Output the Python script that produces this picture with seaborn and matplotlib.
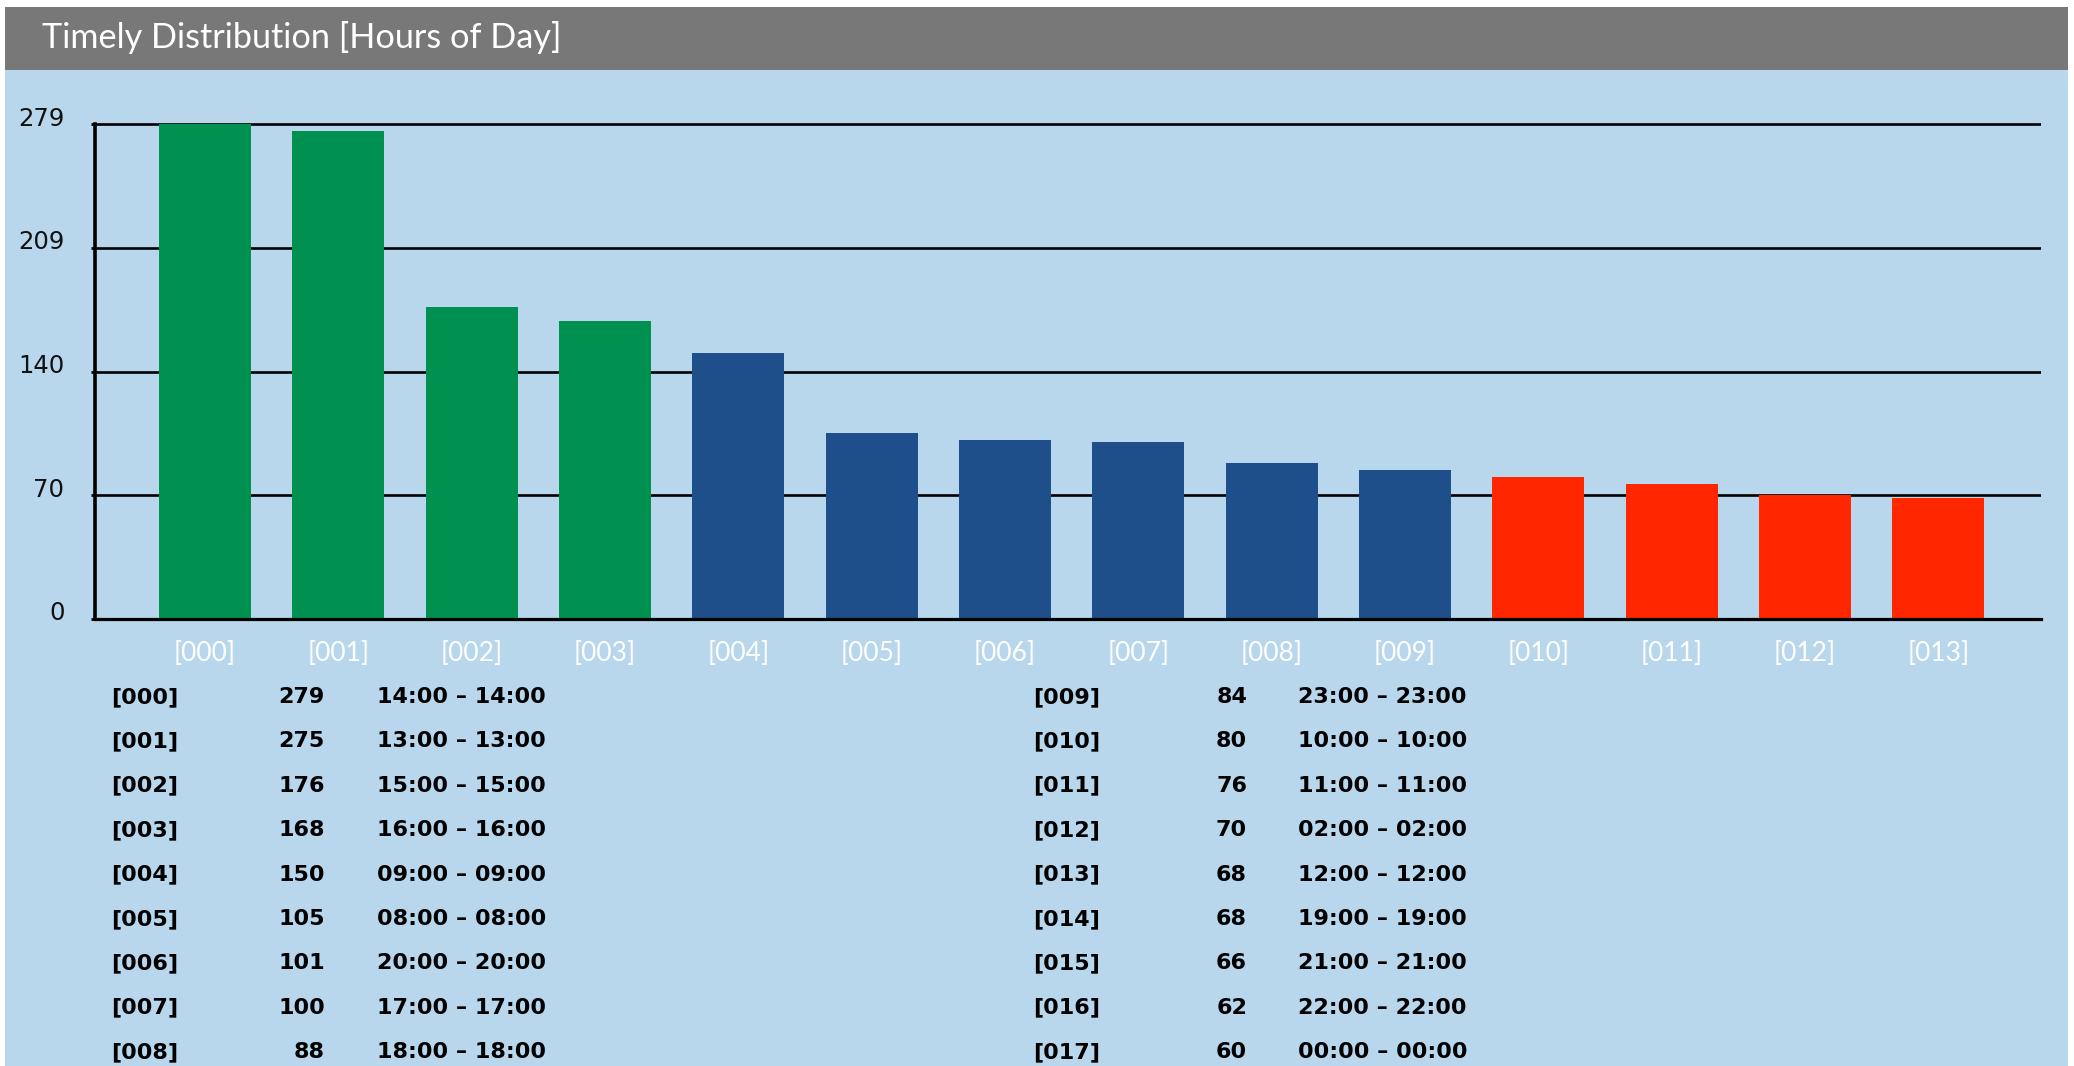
import matplotlib
matplotlib.use("Agg")
import matplotlib.pyplot as plt
import matplotlib.transforms as mtransforms
from matplotlib.patches import Rectangle
import seaborn as sns
import numpy as np
import pandas as pd

# ---- data ----
title = "Timely Distribution [Hours of Day]"
ranks = ["[000]", "[001]", "[002]", "[003]", "[004]", "[005]", "[006]", "[007]", "[008]",
         "[009]", "[010]", "[011]", "[012]", "[013]", "[014]", "[015]", "[016]", "[017]"]
counts = [279, 275, 176, 168, 150, 105, 101, 100, 88,
          84, 80, 76, 70, 68, 68, 66, 62, 60]
hours = ["14:00", "13:00", "15:00", "16:00", "09:00", "08:00", "20:00", "17:00", "18:00",
         "23:00", "10:00", "11:00", "02:00", "12:00", "19:00", "21:00", "22:00", "00:00"]
n_bars = 14
bar_groups = ["top"] * 4 + ["mid"] * 6 + ["low"] * 4
ytick_labels = ["0", "70", "140", "209", "279"]

group_colors = {"top": "#009150", "mid": "#1E4F8A", "low": "#FF2600"}

W, H = 2074, 1066
DPI = 100
BG = "#B8D6EC"
GREY = "#787878"

sns.set_theme(style="white")
plt.rcParams["font.family"] = ["DejaVu Sans"]

fig = plt.figure(figsize=(W / DPI, H / DPI), dpi=DPI, facecolor="white")


def fx(px):
    return px / W


def fy(py):
    return 1 - py / H


fig.patches.append(Rectangle((fx(5), 0), fx(2068) - fx(5), fy(70), transform=fig.transFigure,
                             facecolor=BG, edgecolor="none", zorder=-10))
fig.patches.append(Rectangle((fx(5), fy(70)), fx(2068) - fx(5), fy(7) - fy(70), transform=fig.transFigure,
                             facecolor=GREY, edgecolor="none", zorder=-10))
fig.text(fx(42), fy(37), title, color="white", fontsize=24.7, family=["Lato", "DejaVu Sans"],
         va="center", ha="left")

# axes geometry
y0_px, ytop_px = 619, 124
ymax_val = counts[0]
ylim_top = 290
px_per_unit = (y0_px - ytop_px) / ymax_val
ax_top_px = y0_px - ylim_top * px_per_unit
left_px, right_px = 95, 2041
ax = fig.add_axes([fx(left_px), fy(y0_px), fx(right_px) - fx(left_px), fy(ax_top_px) - fy(y0_px)])
ax.set_facecolor("none")

df = pd.DataFrame({"rank": ranks[:n_bars], "count": counts[:n_bars], "group": bar_groups})
sns.barplot(data=df, x="rank", y="count", hue="group", palette=group_colors, dodge=False,
            width=0.69, legend=False, ax=ax, saturation=1, zorder=3, linewidth=0, edgecolor="none")

ax.set_xlim(-0.825, 13.77)
ax.set_ylim(0, ylim_top)

yticks = np.linspace(0, ymax_val, len(ytick_labels))
ax.set_yticks(yticks)
ax.set_yticklabels(ytick_labels)
ax.yaxis.grid(True, color="black", linewidth=1.9)
ax.set_axisbelow(True)
for gl in ax.get_ygridlines():
    gl.set_zorder(1)

for s in ["top", "right"]:
    ax.spines[s].set_visible(False)
ax.spines["left"].set_color("black")
ax.spines["left"].set_linewidth(2.6)
ax.spines["left"].set_bounds(0, ymax_val)
ax.spines["bottom"].set_color("black")
ax.spines["bottom"].set_linewidth(2.3)
ax.spines["bottom"].set_zorder(5)

ax.tick_params(axis="y", left=True, length=3, width=2, color="black", pad=19,
               labelsize=17.5, labelcolor="#111111")
ax.tick_params(axis="x", bottom=False, length=0, pad=16, labelsize=19, labelcolor="white")
for lab in ax.get_xticklabels():
    lab.set_fontfamily(["Lato", "DejaVu Sans"])
offset = mtransforms.ScaledTranslation(0, 8 / DPI, fig.dpi_scale_trans)
for lab in ax.get_yticklabels():
    lab.set_transform(lab.get_transform() + offset)

ax.set_xlabel("")
ax.set_ylabel("")

# ---- table ----
row_y0, row_dy = 697, 44.4
blocks = [(111, 325, 377), (1033, 1247, 1298)]
rows_per_block = 9
for i, (r, c, h) in enumerate(zip(ranks, counts, hours)):
    b = i // rows_per_block
    j = i % rows_per_block
    if b >= len(blocks):
        break
    xr, xc, xh = blocks[b]
    yy = fy(row_y0 + j * row_dy)
    kw = dict(fontsize=16, fontweight="bold", color="black", va="center")
    fig.text(fx(xr), yy, r, ha="left", **kw)
    fig.text(fx(xc), yy, str(c), ha="right", **kw)
    fig.text(fx(xh), yy, f"{h} \u2013 {h}", ha="left", **kw)

fig.savefig("out.png", dpi=DPI, facecolor=fig.get_facecolor())
